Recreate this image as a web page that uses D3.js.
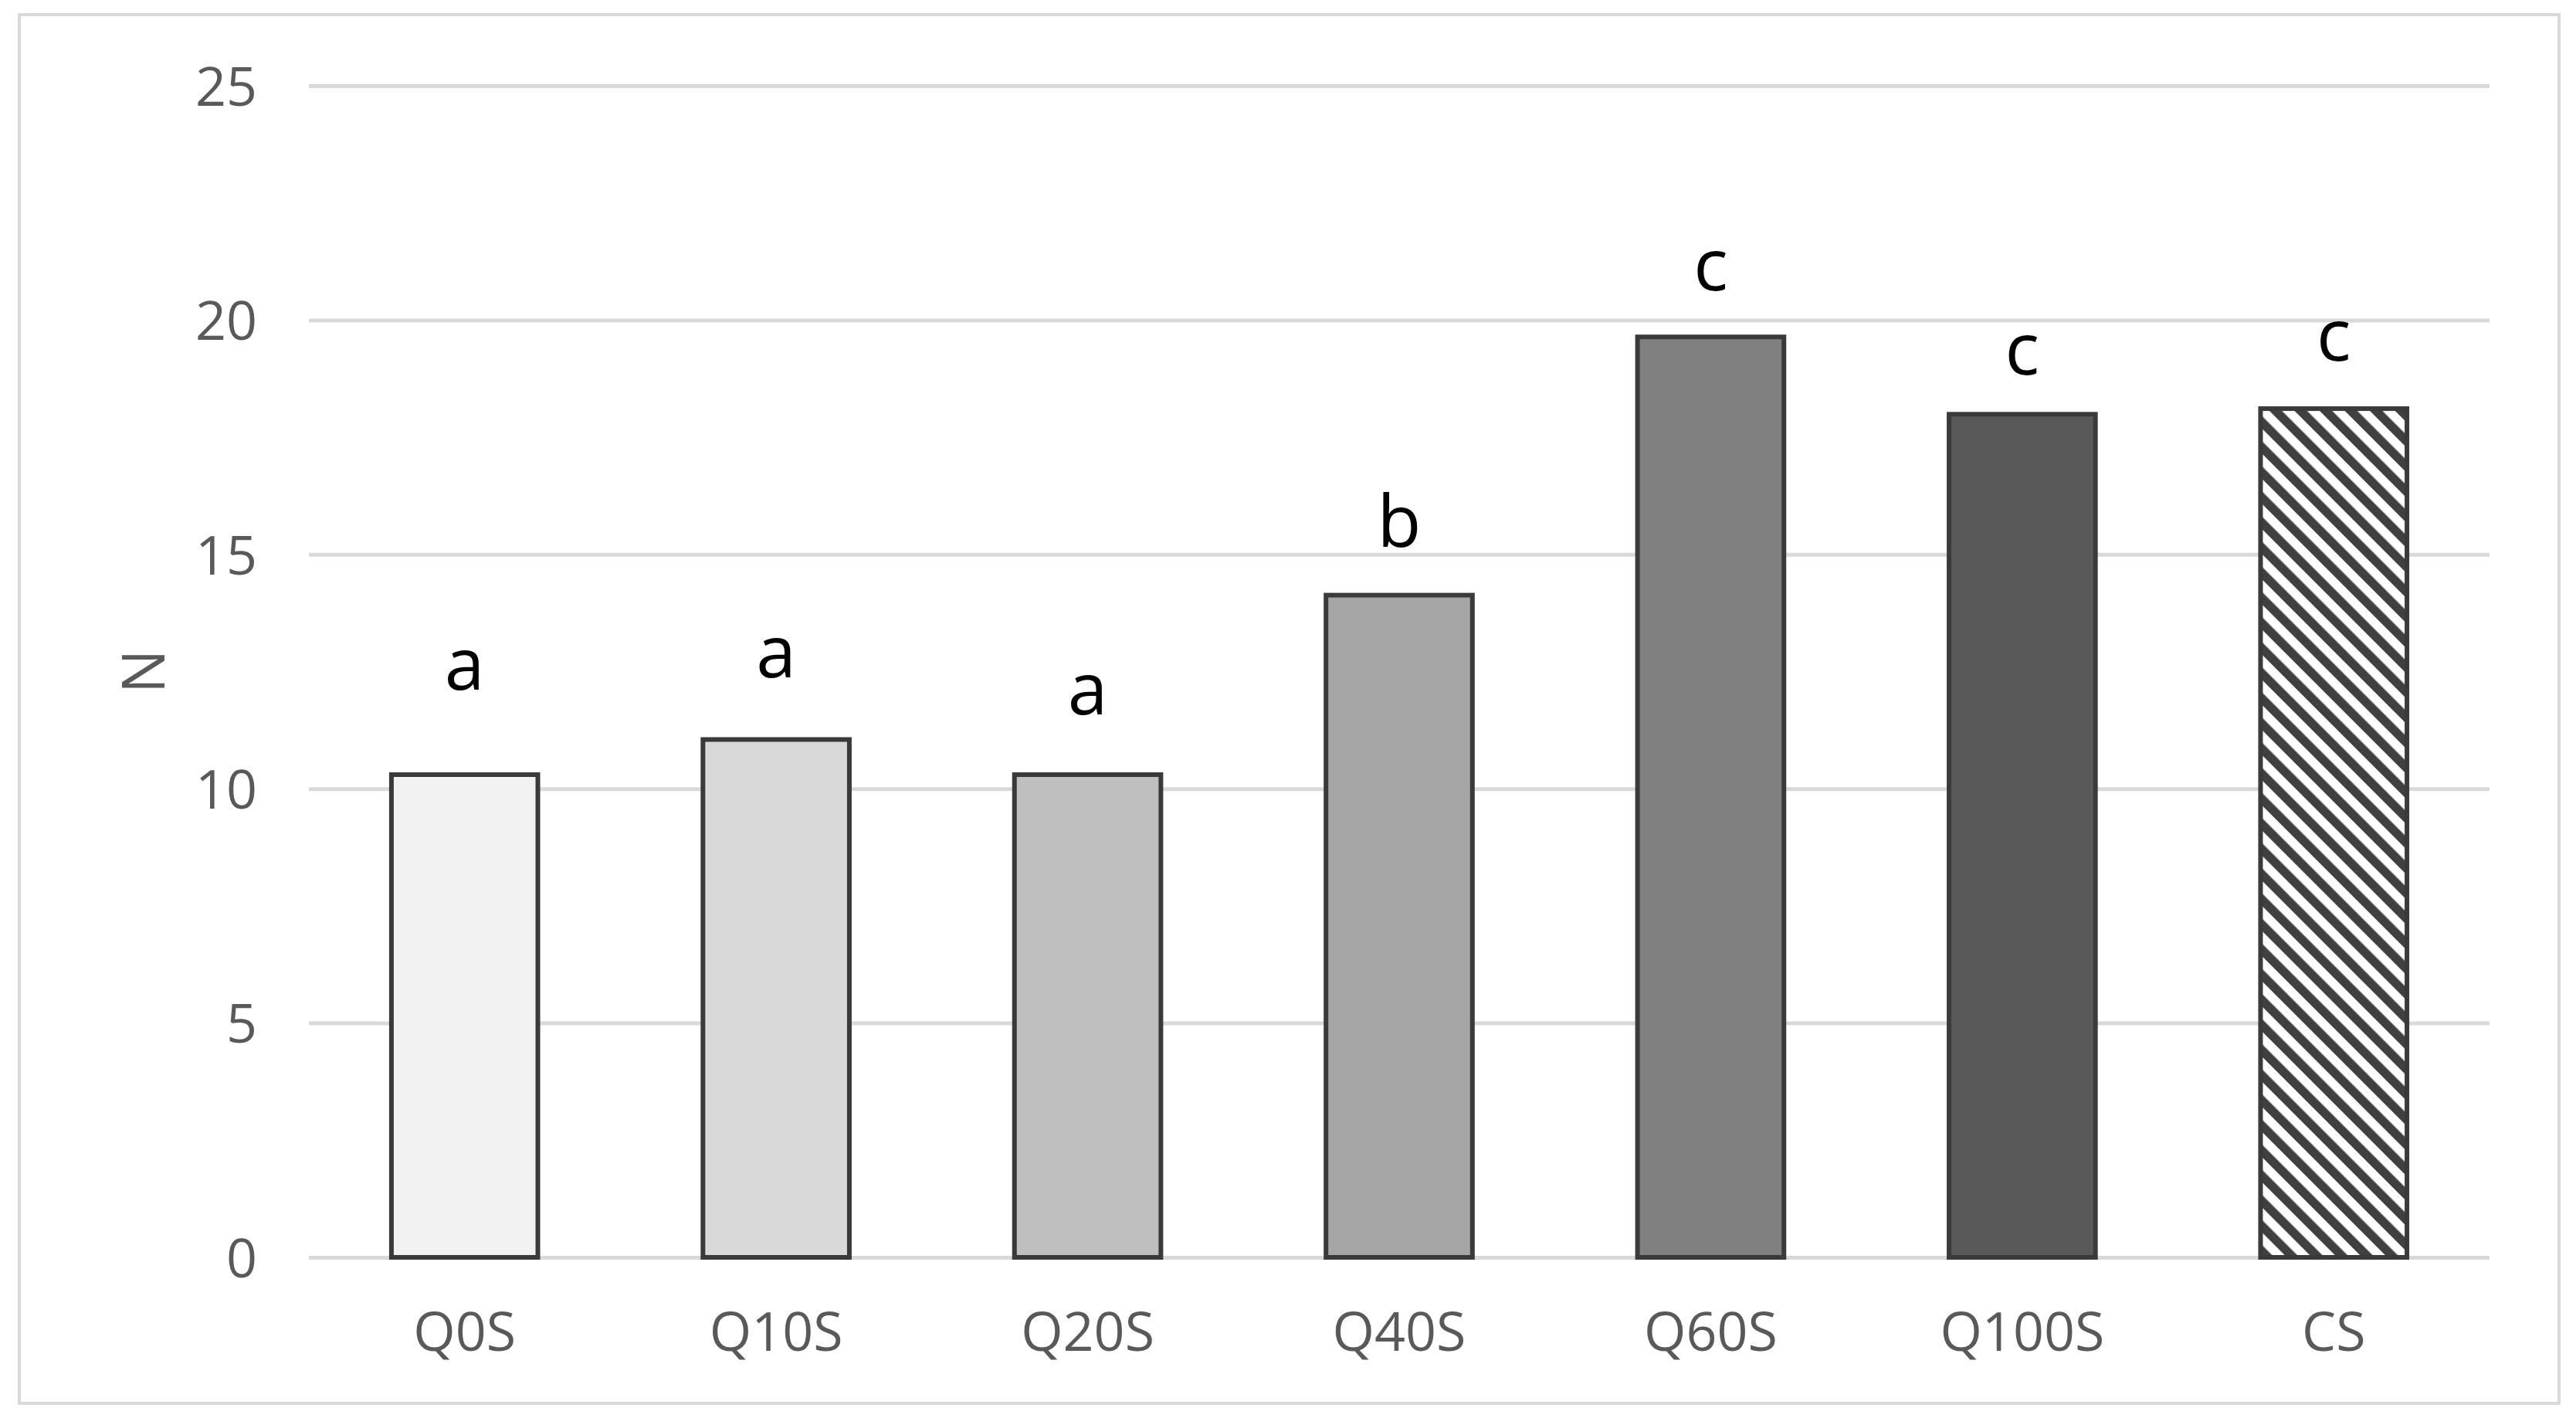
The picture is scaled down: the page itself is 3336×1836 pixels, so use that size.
<!DOCTYPE html>
<html>
<head>
<meta charset="utf-8">
<script src="https://cdn.jsdelivr.net/npm/d3@7"></script>
<style>
  html, body {margin:0; padding:0; background:#fff;}
  svg text {font-family:"Open Sans", "Noto Sans", sans-serif;}
</style>
</head>
<body>
<div id="chart"></div>
<script>
// Data
var categories = ["Q0S","Q10S","Q20S","Q40S","Q60S","Q100S","CS"],
values = [10.30, 11.05, 10.30, 14.13, 19.64, 17.99, 18.11],
letters = ["a","a","a","b","c","c","c"],
letterPos = [12.11, 12.37, 11.58, 15.16, 20.64, 18.83, 19.13], // baseline of each letter, in N units
yTicks = [0,5,10,15,20,25],
fills = ["#f2f2f2","#d9d9d9","#bfbfbf","#a6a6a6","#808080","#595959","url(#hatch)"];

var W = 3336, H = 1836,
plot = {left:400, right:3224, top:111, bottom:1628};

var svg = d3.select("#chart").append("svg")
  .attr("width", W)
  .attr("height", H);

// Diagonal hatch for the last bar
svg.append("defs").append("pattern")
  .attr("id","hatch")
  .attr("patternUnits","userSpaceOnUse")
  .attr("width",23)
  .attr("height",23)
  .attr("patternTransform","rotate(-45)")
  .call(function(p){
    p.append("rect").attr("width",23).attr("height",23).attr("fill","#fff");
    p.append("rect").attr("width",11.5).attr("height",23).attr("fill","#404040");
  });

// Chart border
svg.append("rect")
  .attr("x",25).attr("y",19)
  .attr("width",3289).attr("height",1798)
  .attr("fill","#fff")
  .attr("stroke","#d9d9d9")
  .attr("stroke-width",4);

var x = d3.scaleBand()
  .domain(categories)
  .range([plot.left, plot.right])
  .paddingInner(0.53)
  .paddingOuter(0.265);

var y = d3.scaleLinear()
  .domain([0,25])
  .range([plot.bottom, plot.top]);

// Gridlines
svg.append("g")
  .attr("transform","translate("+plot.left+",0)")
  .call(d3.axisLeft(y).tickValues(yTicks).tickSize(-(plot.right-plot.left)).tickFormat(""))
  .call(function(g){
    g.select(".domain").remove();
    g.selectAll("line").attr("stroke","#d9d9d9").attr("stroke-width",5);
  });

// Y tick labels
svg.append("g")
  .attr("transform","translate("+plot.left+",0)")
  .call(d3.axisLeft(y).tickValues(yTicks).tickSize(0).tickPadding(67))
  .call(function(g){
    g.select(".domain").remove();
    g.selectAll("text")
      .attr("font-size",70)
      .attr("fill","#595959")
      .attr("dy","0.36em")
      .style("font-family","'Open Sans', sans-serif");
  });

// X tick labels
svg.append("g")
  .attr("transform","translate(0,"+plot.bottom+")")
  .call(d3.axisBottom(x).tickSize(0).tickPadding(71))
  .call(function(g){
    g.select(".domain").remove();
    g.selectAll("text")
      .attr("font-size",70)
      .attr("fill","#595959")
      .style("font-family","'Open Sans', sans-serif");
  });

// Bars
svg.append("g").selectAll("rect")
  .data(categories)
  .enter().append("rect")
  .attr("x", function(d){return x(d);})
  .attr("y", function(d,i){return y(values[i]);})
  .attr("width", x.bandwidth())
  .attr("height", function(d,i){return y(0) - y(values[i]);})
  .attr("fill", function(d,i){return fills[i];})
  .attr("stroke","#3a3a3a")
  .attr("stroke-width",6);

// Significance letters
svg.append("g").selectAll("text")
  .data(categories)
  .enter().append("text")
  .attr("x", function(d){return x(d) + x.bandwidth()/2;})
  .attr("y", function(d,i){return y(letterPos[i]);})
  .attr("text-anchor","middle")
  .attr("font-size",93)
  .attr("fill","#000")
  .text(function(d,i){return letters[i];});

// Y axis title
svg.append("text")
  .attr("transform","translate(213,"+((plot.top+plot.bottom)/2)+") rotate(-90)")
  .attr("text-anchor","middle")
  .attr("font-size",76)
  .attr("fill","#595959")
  .text("N");
</script>
</body>
</html>
